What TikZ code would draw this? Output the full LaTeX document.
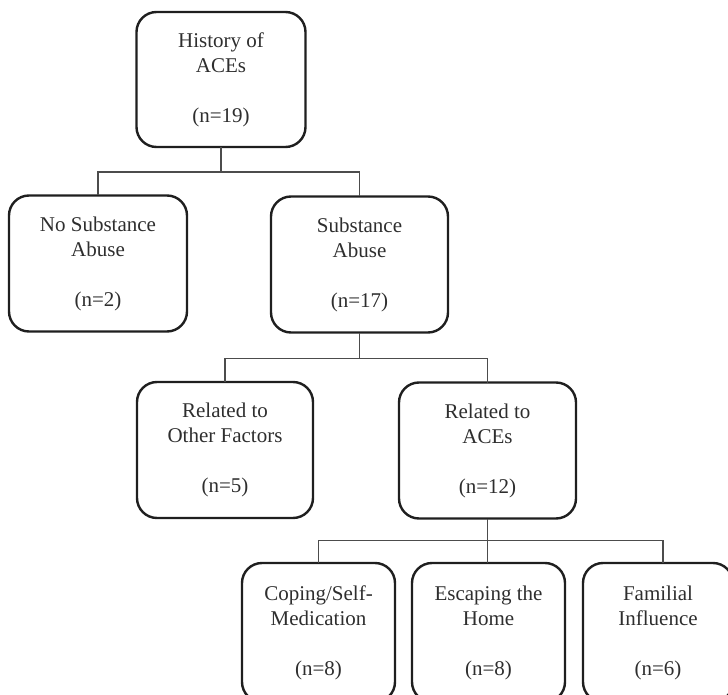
\documentclass[tikz,border=0pt]{standalone}
\usepackage{fontspec}
\setmainfont{Liberation Serif}
\begin{document}
\begin{tikzpicture}[x=1pt,y=-1pt,
  box/.style={draw=black!88, line width=2.4pt, rounded corners=20pt, outer sep=0pt,
    align=center, text=black!82, font=\fontsize{21}{25}\selectfont, inner sep=0pt},
  conn/.style={draw=black!70, line width=1.1pt}]
\useasboundingbox (0,0) rectangle (728,695);
\clip (0,0) rectangle (728,695);
\node[box, minimum width=169pt, minimum height=135pt] (b1) at (221,79.5) {History of\\ACEs\\[25pt](n=19)};
\node[box, minimum width=178pt, minimum height=136pt] (b2) at (98,263.5) {No Substance\\Abuse\\[25pt](n=2)};
\node[box, minimum width=177pt, minimum height=136pt] (b3) at (359.5,264.5) {Substance\\Abuse\\[25pt](n=17)};
\node[box, minimum width=176pt, minimum height=136pt] (b4) at (225,450) {Related to\\Other Factors\\[25pt](n=5)};
\node[box, minimum width=177pt, minimum height=136pt] (b5) at (487.5,450.5) {Related to\\ACEs\\[25pt](n=12)};
\node[box, minimum width=153pt, minimum height=139pt] (b6) at (318.5,632.5) {Coping/Self-\\Medication\\[25pt](n=8)};
\node[box, minimum width=153pt, minimum height=139pt] (b7) at (488.5,632.5) {Escaping the\\Home\\[25pt](n=8)};
\node[box, minimum width=150pt, minimum height=139pt] (b8) at (658,632.5) {Familial\\Influence\\[25pt](n=6)};
\draw[conn] (b1.south) -- ++(0,25) coordinate (j1);
\draw[conn] (b2.north) |- (j1) -| (b3.north);
\draw[conn] (b3.south) -- ++(0,26) coordinate (j2);
\draw[conn] (b4.north) |- (j2) -| (b5.north);
\draw[conn] (b5.south) -- ++(0,22) coordinate (j3);
\draw[conn] (b6.north) |- (j3) -- (j3 |- b7.north);
\draw[conn] (j3) -| ([xshift=80pt]b8.north west);
\end{tikzpicture}
\end{document}
